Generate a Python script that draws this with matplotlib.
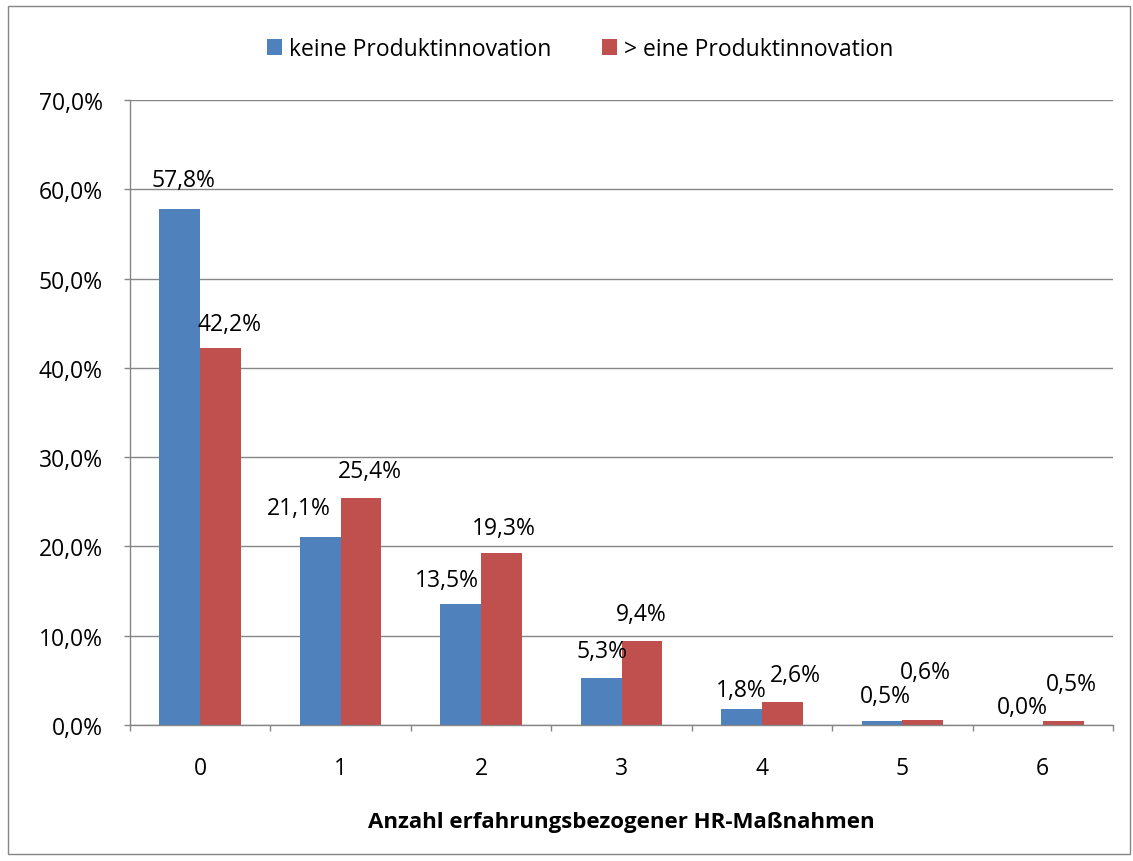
import matplotlib
matplotlib.use("Agg")
import matplotlib.pyplot as plt
from matplotlib.patches import Rectangle
import numpy as np

plt.rcParams['font.family'] = ['Open Sans', 'DejaVu Sans']

# Daten
kategorien = ['0', '1', '2', '3', '4', '5', '6']
keine_innovation = [57.8, 21.1, 13.5, 5.3, 1.8, 0.5, 0.0]
eine_innovation = [42.2, 25.4, 19.3, 9.4, 2.6, 0.6, 0.5]
serien_namen = ['keine Produktinnovation', '> eine Produktinnovation']
y_ticks = [0, 10, 20, 30, 40, 50, 60, 70]

# Versatz der Datenbeschriftungen (Pixel), wie im Original platziert
blau_versatz = [(4, 29), (-21, 29), (-14, 24), (1, 27), (0, 19), (3, 25), (0, 18)]
rot_versatz = [(9, 24), (9, 27), (2, 25), (-1, 27), (13, 27), (3, 48), (8, 37)]

blau = '#4F81BD'
rot = '#C0504D'
grau = '#868686'
fs = 16.5

fig = plt.figure(figsize=(11.33, 8.62), dpi=100)
ax = fig.add_axes([130 / 1133, 1 - 726 / 862, (1113 - 130) / 1133, (726 - 101) / 862])

x = np.arange(len(kategorien))
breite = 0.29
b1 = ax.bar(x - breite / 2, keine_innovation, breite, color=blau, label=serien_namen[0], zorder=3)
b2 = ax.bar(x + breite / 2, eine_innovation, breite, color=rot, label=serien_namen[1], zorder=3)

def fmt(v):
    return f"{v:.1f}%".replace('.', ',')

for bars, werte, versatz in [(b1, keine_innovation, blau_versatz), (b2, eine_innovation, rot_versatz)]:
    for rect, v, (dx, dy) in zip(bars, werte, versatz):
        ax.annotate(fmt(v), (rect.get_x() + rect.get_width() / 2, v),
                    xytext=(dx, dy), textcoords='offset pixels',
                    ha='center', va='center', fontsize=fs, color='black')

ax.set_xlim(-0.5, len(kategorien) - 0.5)
ax.set_ylim(0, 70)
ax.set_yticks(y_ticks)
ax.set_yticklabels([fmt(v) for v in y_ticks], fontsize=fs)
ax.set_xticks(x)
ax.set_xticklabels(kategorien, fontsize=fs)
ax.set_xticks(np.arange(-0.5, len(kategorien)), minor=True)
ax.tick_params(axis='x', which='major', length=0, pad=22)
ax.tick_params(axis='x', which='minor', length=4.5, color=grau, width=1)
ax.tick_params(axis='y', length=4.5, color=grau, width=1, pad=15)

ax.grid(axis='y', color=grau, linewidth=1, zorder=0)
ax.set_axisbelow(True)
for s in ['top', 'right']:
    ax.spines[s].set_visible(False)
for s in ['left', 'bottom']:
    ax.spines[s].set_color(grau)
    ax.spines[s].set_linewidth(1)
    ax.spines[s].set_zorder(4)

ax.set_xlabel('Anzahl erfahrungsbezogener HR-Maßnahmen', fontsize=16, fontweight='bold', labelpad=23)

fig.legend(handles=[b1, b2], labels=serien_namen, loc='center', bbox_to_anchor=(0.512, 1 - 50 / 862),
           ncol=2, frameon=False, fontsize=fs, handlelength=0.65, handleheight=0.65,
           handletextpad=0.3, columnspacing=2.2)

fig.add_artist(Rectangle((8 / 1133, 7 / 862), 1122 / 1133, 848 / 862, transform=fig.transFigure,
                         fill=False, edgecolor=grau, linewidth=1))

fig.savefig('out.png', dpi=100)
